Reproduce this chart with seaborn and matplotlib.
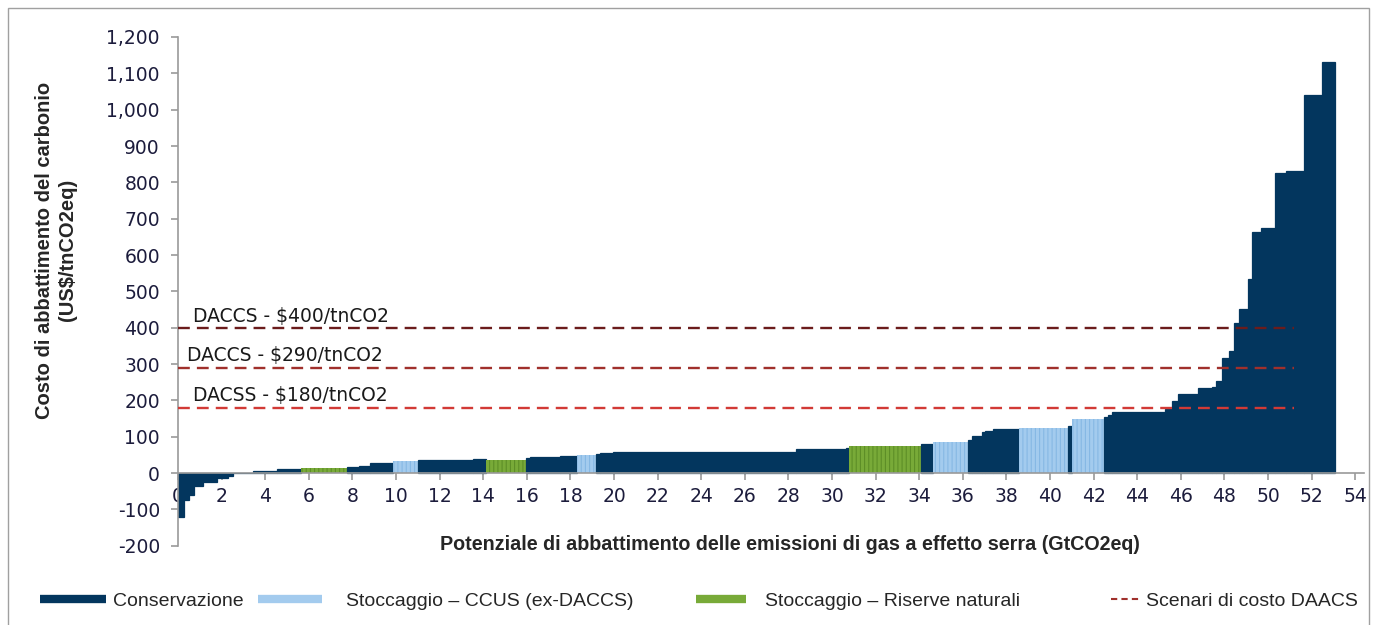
import numpy as np
import matplotlib
matplotlib.use("Agg")
import matplotlib.pyplot as plt
import seaborn as sns
from matplotlib.lines import Line2D
from matplotlib.patches import Rectangle
from matplotlib.ticker import FuncFormatter

# abatement blocks, left to right (width in GtCO2eq, cost in US$/tnCO2eq)
widths = [0.28, 0.23, 0.23, 0.41, 0.64, 0.50, 0.23, 0.92, 1.10, 1.10,
          2.11, 0.55, 0.50, 1.06, 1.15, 2.52, 0.60, 1.83, 0.18, 1.38,
          0.78, 0.87, 0.18, 0.60, 8.39, 2.29, 0.14, 3.30, 0.55, 1.61,
          0.18, 0.46, 0.14, 0.37, 1.19, 2.25, 0.18, 1.47, 0.18, 0.18,
          2.43, 0.32, 0.28, 0.92, 0.64, 0.18, 0.28, 0.32, 0.23, 0.23,
          0.41, 0.18, 0.41, 0.64, 0.50, 0.83, 0.83, 0.60]
costs = [-120, -74, -60, -36, -24, -14, -8, 1, 5, 10,
         14, 16, 20, 27, 34, 36, 39, 37, 40, 43,
         47, 50, 53, 56, 59, 65, 70, 75, 80, 86,
         91, 103, 112, 116, 120, 123, 130, 149, 154, 161,
         169, 176, 198, 217, 235, 238, 254, 317, 336, 414,
         451, 534, 662, 675, 825, 831, 1040, 1132]
# 0 = Conservazione, 1 = CCUS, 2 = riserve naturali
kinds = [0, 0, 0, 0, 0, 0, 0, 0, 0, 0,
         2, 0, 0, 0, 1, 0, 0, 2, 0, 0,
         0, 1, 0, 0, 0, 0, 0, 2, 0, 1,
         0, 0, 0, 0, 0, 1, 0, 1, 0, 0,
         0, 0, 0, 0, 0, 0, 0, 0, 0, 0,
         0, 0, 0, 0, 0, 0, 0, 0]

scen_vals = [400, 290, 180]
scen_labels = ["DACCS - $400/tnCO2", "DACCS - $290/tnCO2", "DACSS - $180/tnCO2"]
scen_colors = ["#6b1c1c", "#a0302c", "#d23a36"]
scen_end = 51.2

legend_labels = ["Conservazione", "Stoccaggio \u2013 CCUS (ex-DACCS)",
                 "Stoccaggio \u2013 Riserve naturali", "Scenari di costo DAACS"]

navy = "#03365e"
light = "#a3cbee"
green = "#78aa38"
face = {0: navy, 1: light, 2: green}
hatch_col = {0: navy, 1: "#86b8e4", 2: "#5d8e27"}

sns.set_style("ticks")
plt.rcParams["font.family"] = ["Liberation Sans", "DejaVu Sans"]
plt.rcParams["hatch.linewidth"] = 0.8

fig = plt.figure(figsize=(13.77, 6.25), dpi=100)
ax = fig.add_axes([178 / 1377, 1 - 545.7 / 625, 1186 / 1377, (545.7 - 37) / 625])

w = np.array(widths)
left = np.concatenate([[0], np.cumsum(w)[:-1]])
for l, wd, c, k in zip(left, w, costs, kinds):
    ax.bar(l, c, width=wd, align="edge", color=face[k], edgecolor=hatch_col[k],
           linewidth=0.9 if k == 0 else 0, hatch=None if k == 0 else "||||", zorder=2)

for v, lab, col in zip(scen_vals, scen_labels, scen_colors):
    ax.plot([0, scen_end], [v, v], color=col, lw=1.7, ls=(0, (5, 3)), zorder=3)
for v, lab, x0 in zip(scen_vals, scen_labels, [0.7, 0.42, 0.7]):
    ax.text(x0, v + 6, lab, fontsize=13.5, color="#1a1a1a", va="bottom", ha="left",
            family="DejaVu Sans")

ax.set_xlim(0, 54.4)
ax.set_ylim(-200, 1200)
ax.set_xticks(np.arange(0, 55, 2))
ax.set_yticks(np.arange(-200, 1201, 100))
ax.yaxis.set_major_formatter(FuncFormatter(lambda v, p: f"{v:,.0f}"))

sns.despine(ax=ax)
ax.spines["bottom"].set_position(("data", 0))
for s in ["left", "bottom"]:
    ax.spines[s].set_color("#9a9a9a")
    ax.spines[s].set_linewidth(1.2)
ax.tick_params(axis="both", colors="#9a9a9a", length=5, width=1.2, direction="out")
ax.tick_params(axis="both", labelcolor="#1c1c3c", labelsize=13.5)
ax.tick_params(axis="y", pad=8)
ax.tick_params(axis="x", pad=5)
for t in ax.get_xticklabels() + ax.get_yticklabels():
    t.set_family("DejaVu Sans")

fig.text(56 / 1377, 1 - 250 / 625, "Costo di abbattimento del carbonio\n(US$/tnCO2eq)",
         rotation=90, ha="center", va="center", fontsize=14.5, fontweight="bold",
         linespacing=1.2)
fig.text(790 / 1377, 1 - 545 / 625,
         "Potenziale di abbattimento delle emissioni di gas a effetto serra (GtCO2eq)",
         ha="center", va="center", fontsize=14.2, fontweight="bold")

# legend, one block per entry
handles = [Line2D([], [], color=navy, lw=6, solid_capstyle="butt"),
           Line2D([], [], color=light, lw=6, solid_capstyle="butt"),
           Line2D([], [], color=green, lw=6, solid_capstyle="butt"),
           Line2D([], [], color=scen_colors[1], lw=1.5, ls=(0, (3, 2)))]
starts = [40, 258, 696, 1111]
hlens = [3.4, 3.3, 2.55, 1.5]
pads = [0.35, 1.2, 1.0, 0.3]
for h, lab, xs, hl, pd in zip(handles, legend_labels, starts, hlens, pads):
    fig.legend([h], [lab], loc="center left", bbox_to_anchor=(xs / 1377, 1 - 601 / 625),
               frameon=False, borderpad=0, borderaxespad=0, handlelength=hl,
               handletextpad=pd,
               prop={"family": ["Liberation Sans Narrow", "Liberation Sans"], "size": 14})

fig.add_artist(Rectangle((8 / 1377, -0.05), 1361 / 1377, 1.05 - 8 / 625,
                         transform=fig.transFigure, fill=False, edgecolor="#a0a0a0", lw=1))

fig.savefig("out.png", dpi=100)
